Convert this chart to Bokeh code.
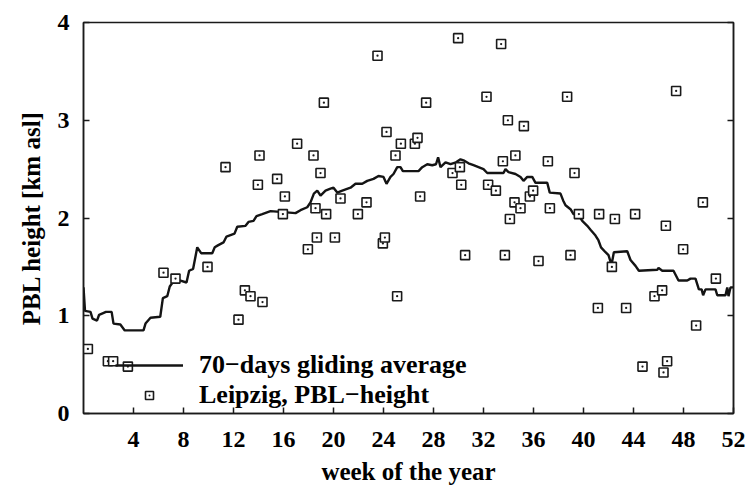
from bokeh.plotting import figure
from bokeh.models import (LinearAxis, FixedTicker, Legend, LegendItem, Range1d,
                          ColumnDataSource, CustomJSTickFormatter)
from bokeh.embed import file_html
from bokeh.resources import INLINE

# 70-day gliding average of the PBL height, vertices (week of year, km asl)
avg_week = [0.0, 0.12, 0.56, 0.72, 1.08, 1.25, 1.8, 2.25, 2.4, 2.95, 3.3, 4.8,
            4.96, 5.36, 6.14, 6.35, 6.7, 6.9, 7.3, 7.76, 8.24, 8.45, 8.77, 9.1,
            9.41, 10.3, 10.5, 10.75, 11.2, 11.44, 12.08, 12.3, 12.96, 13.2, 13.6,
            13.84, 14.3, 14.96, 16.0, 16.96, 17.36, 17.9, 18.16, 18.43, 18.7,
            18.96, 19.36, 19.76, 20.0, 20.3, 20.7, 21.36, 21.76, 22.3, 22.7, 23.2,
            23.6, 24.0, 24.24, 24.56, 24.8, 25.1, 25.36, 25.55, 26.56, 26.8, 27.1,
            27.5, 27.9, 28.2, 28.37, 28.56, 28.96, 29.36, 29.8, 30.16, 30.4, 30.8,
            31.2, 31.6, 32.0, 32.3, 33.6, 33.76, 34.0, 34.56, 34.96, 35.2, 35.5,
            35.9, 36.16, 37.1, 37.3, 38.16, 38.37, 38.56, 38.96, 39.2, 39.6, 39.9,
            40.3, 40.56, 40.96, 41.2, 41.4, 41.76, 42.0, 42.24, 42.43, 43.5, 43.76,
            44.16, 44.43, 45.9, 46.0, 46.3, 47.2, 47.6, 48.3, 48.56, 48.96, 49.23,
            49.45, 49.57, 49.76, 50.56, 50.7, 51.36, 51.5, 51.6, 51.76, 52.0]
avg_height = [1.29, 1.05, 1.04, 0.97, 0.95, 1.01, 1.04, 1.04, 0.92, 0.91, 0.85, 0.85,
              0.92, 0.98, 0.99, 1.18, 1.20, 1.30, 1.37, 1.36, 1.34, 1.46, 1.48, 1.70,
              1.64, 1.64, 1.70, 1.72, 1.75, 1.81, 1.84, 1.91, 1.92, 1.96, 1.97,
              2.02, 2.04, 2.07, 2.06, 2.05, 2.08, 2.11, 2.16, 2.25, 2.28,
              2.23, 2.28, 2.30, 2.31, 2.26, 2.28, 2.31, 2.35, 2.35, 2.38, 2.40,
              2.43, 2.42, 2.35, 2.42, 2.45, 2.52, 2.52, 2.48, 2.48, 2.48, 2.52,
              2.55, 2.54, 2.55, 2.62, 2.52, 2.57, 2.55, 2.57, 2.60, 2.59, 2.56,
              2.54, 2.52, 2.50, 2.46, 2.46, 2.50, 2.47, 2.45, 2.42, 2.38, 2.42,
              2.42, 2.36, 2.36, 2.26, 2.25, 2.18, 2.13, 2.09, 2.04, 2.03, 1.97,
              1.92, 1.88, 1.82, 1.77, 1.70, 1.65, 1.62, 1.52, 1.65, 1.66, 1.57,
              1.51, 1.46, 1.47, 1.49, 1.46, 1.46, 1.36, 1.36, 1.38, 1.38, 1.27,
              1.27, 1.21, 1.27, 1.27, 1.21, 1.21, 1.29, 1.20, 1.29, 1.29]

# Individual PBL-height determinations at Leipzig
obs_week = [0.35, 1.95, 2.37, 3.55, 6.40, 7.36, 9.92, 11.36, 12.40, 12.91, 13.36,
            13.95, 14.08, 14.32, 15.49, 15.95, 16.11, 17.09, 17.95, 18.40, 18.56,
            18.67, 18.96, 19.23, 19.41, 20.11, 20.56, 21.95, 22.64, 23.52, 23.95,
            24.11, 24.24, 24.96, 25.09, 25.39, 26.51, 26.72, 26.93, 27.41, 29.52,
            29.97, 30.11, 30.22, 30.53, 32.24, 32.37, 32.99, 33.41, 33.55, 33.71,
            33.95, 34.11, 34.48, 34.55, 34.96, 35.23, 35.71, 35.97, 36.40, 37.15,
            37.31, 38.69, 38.96, 39.28, 39.63, 41.15, 41.25, 42.27, 42.51, 43.41,
            44.13, 44.72, 45.68, 46.29, 46.40, 46.59, 46.69, 47.41, 47.97, 49.01,
            49.55, 50.59]
obs_height = [0.66, 0.535, 0.535, 0.48, 1.44, 1.38, 1.50, 2.52, 0.96, 1.26, 1.20,
              2.34, 2.64, 1.14, 2.40, 2.04, 2.22, 2.76, 1.68, 2.64, 2.10,
              1.80, 2.46, 3.18, 2.04, 1.80, 2.20, 2.04, 2.16, 3.66, 1.74,
              1.80, 2.88, 2.64, 1.20, 2.76, 2.76, 2.82, 2.22, 3.18, 2.46,
              3.84, 2.52, 2.34, 1.62, 3.24, 2.34, 2.28, 3.78, 2.58, 1.62,
              3.00, 1.99, 2.16, 2.64, 2.10, 2.94, 2.22, 2.28, 1.56, 2.58,
              2.10, 3.24, 1.62, 2.46, 2.04, 1.08, 2.04, 1.50, 1.99, 1.08,
              2.04, 0.48, 1.20, 1.26, 0.42, 1.92, 0.535, 3.30, 1.68, 0.90,
              2.16, 1.38]

x_ticks = [4, 8, 12, 16, 20, 24, 28, 32, 36, 40, 44, 48, 52]
y_ticks = [0, 1, 2, 3, 4]

FONT = "Liberation Serif"
INK = "#1a1a1a"

p = figure(width=747, height=488, output_backend="svg", toolbar_location=None,
           x_range=Range1d(0, 52), y_range=Range1d(0, 4),
           min_border_left=83, min_border_right=14, min_border_top=22,
           min_border_bottom=75, background_fill_color="white",
           border_fill_color="white")
p.xgrid.visible = False
p.ygrid.visible = False
p.outline_line_color = INK
p.outline_line_width = 1.5
p.outline_line_alpha = 1.0

avg_src = ColumnDataSource(dict(week=avg_week, height=avg_height))
obs_src = ColumnDataSource(dict(week=obs_week, height=obs_height))

r_avg = p.line("week", "height", source=avg_src, line_color="#141414", line_width=2.4)
r_obs = p.scatter("week", "height", source=obs_src, marker="square_dot", size=9,
                  line_color=INK, line_width=1.6, fill_color="white")

def style_axis(ax):
    ax.major_tick_in = 6
    ax.major_tick_out = 0
    ax.minor_tick_in = 0
    ax.minor_tick_out = 0
    ax.axis_line_color = INK
    ax.axis_line_width = 1.5
    ax.major_tick_line_color = INK
    ax.major_tick_line_width = 1.5
    ax.major_label_text_font = FONT
    ax.major_label_text_font_style = "bold"
    ax.major_label_text_font_size = "24px"
    ax.major_label_text_color = "black"
    ax.axis_label_text_font = FONT
    ax.axis_label_text_font_style = "bold"
    ax.axis_label_text_font_size = "25px"
    ax.axis_label_text_color = "black"

xa = p.xaxis[0]
style_axis(xa)
xa.ticker = FixedTicker(ticks=x_ticks)
xa.axis_label = "week of the year"
xa.major_label_standoff = 18
xa.axis_label_standoff = 8

ya = p.yaxis[0]
style_axis(ya)
ya.ticker = FixedTicker(ticks=y_ticks)
ya.axis_label = "PBL height [km asl]"
ya.major_label_standoff = 14
ya.axis_label_standoff = 10

# mirror ticks on the right edge, without labels
right = LinearAxis(ticker=FixedTicker(ticks=y_ticks),
                   formatter=CustomJSTickFormatter(code="return ''"))
style_axis(right)
right.major_label_standoff = 0
p.add_layout(right, "right")

legend = Legend(items=[LegendItem(label="70\u2212days gliding average", renderers=[r_avg]),
                       LegendItem(label="Leipzig, PBL\u2212height", renderers=[r_obs])],
                location=(32, 3), padding=0, margin=0, spacing=-8,
                glyph_width=68, glyph_height=20, label_standoff=16, label_height=20,
                background_fill_alpha=0, border_line_alpha=0,
                label_text_font=FONT, label_text_font_style="bold",
                label_text_font_size="26px", label_text_color="black")
p.add_layout(legend, "center")

open("out.html", "w").write(file_html(p, INLINE))
